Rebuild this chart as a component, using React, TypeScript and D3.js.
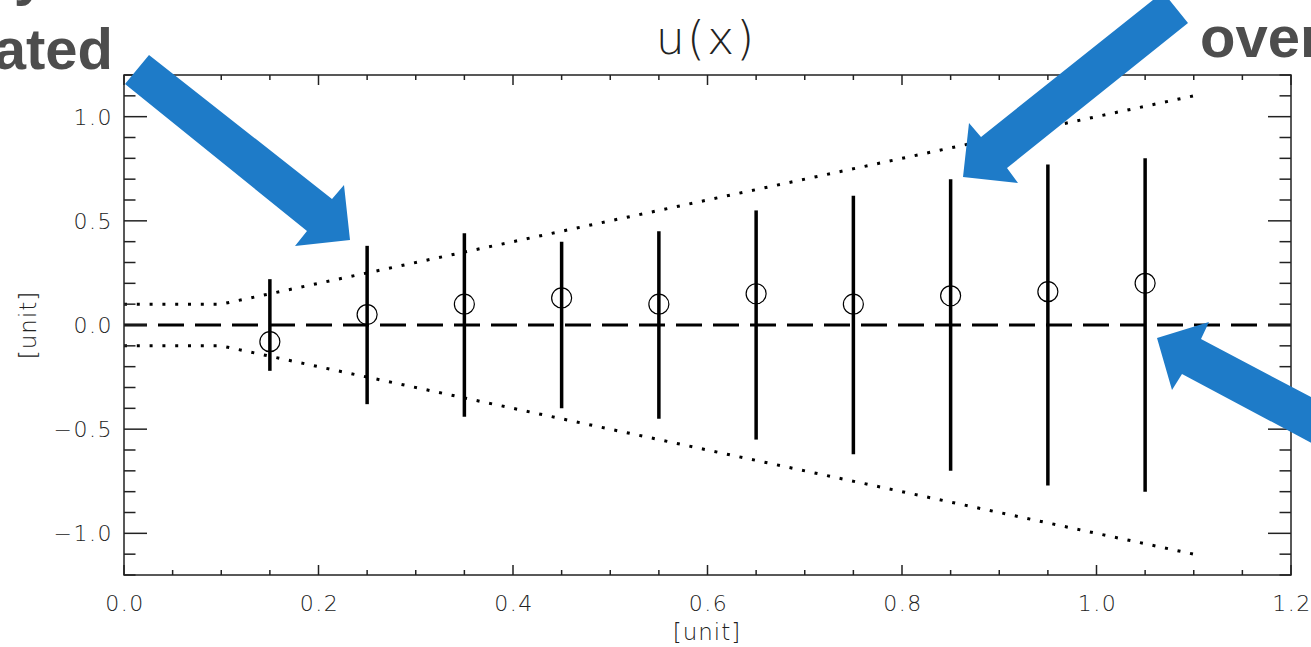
import React from "react";
import * as d3 from "d3";

// Sample positions, measured values and their error half-widths
const xs = [0.15, 0.25, 0.35, 0.45, 0.55, 0.65, 0.75, 0.85, 0.95, 1.05];
const values = [-0.08, 0.05, 0.1, 0.13, 0.1, 0.15, 0.1, 0.14, 0.16, 0.2];
const errors = [0.22, 0.38, 0.44, 0.4, 0.45, 0.55, 0.62, 0.7, 0.77, 0.8];

// Envelope (dotted) break points
const envX = [0, 0.1, 1.1];
const envY = [0.1, 0.1, 1.1];

// Axis ticks
const xMajor = [0, 0.2, 0.4, 0.6, 0.8, 1.0, 1.2];
const yMajor = [-1.0, -0.5, 0.0, 0.5, 1.0];

const W = 1311;
const H = 647;
const M = { left: 124, right: 1291, top: 75, bottom: 575 };

const x = d3.scaleLinear().domain([0, 1.2]).range([M.left, M.right]);
const y = d3.scaleLinear().domain([-1.2, 1.2]).range([M.bottom, M.top]);

const xMinor = d3.range(0, 1.2001, 0.05).filter((v) => Math.abs(v / 0.2 - Math.round(v / 0.2)) > 1e-6);
const yMinor = d3.range(-1.2, 1.2001, 0.1).filter((v) => Math.abs(v / 0.5 - Math.round(v / 0.5)) > 1e-6);

const fmt = (v: number) => (v < 0 ? "\u2212" : "") + Math.abs(v).toFixed(1);

const BLUE = "#1e7bc8";
const AXIS = "#222";
const thinFont = "'DejaVu Sans', sans-serif";

// Call-out arrows (slide annotation polygons)
const arrows: [number, number][][] = [
  [[149, 55], [332, 199], [344, 185], [350, 240], [295, 246], [307, 231], [125, 84]],
  [[1163, -8], [1188, 23], [1007, 168], [1018, 183], [963, 177], [969, 123], [981, 137]],
  [[1157, 338], [1209, 322], [1201, 339], [1400, 444], [1400, 490], [1182, 374], [1172, 390]],
];

export default function App() {
  const envTop = d3.line<number>().x((_, i) => x(envX[i])).y((d) => y(d));
  const envBottom = d3.line<number>().x((_, i) => x(envX[i])).y((d) => y(-d));
  const xTickMaj = 10, xTickMin = 5, yTickMaj = 23, yTickMin = 11.5;

  return (
    <svg
      width={W}
      height={H}
      style={{ position: "absolute", left: 0, top: 0, background: "#fff" }}
    >
      {/* slide text fragments */}
      <g fontFamily="'Liberation Sans', Arial, sans-serif" fontWeight="bold" fontSize={58} fill="#4d4d4d">
        <text x={46} y={-6} textAnchor="end">y</text>
        <text x={113} y={69} textAnchor="end">ated</text>
        <text x={1200} y={57}>over</text>
      </g>

      {/* title */}
      <text
        x={706}
        y={54}
        textAnchor="middle"
        fontFamily={thinFont}
        fontWeight={200}
        fontSize={46}
        letterSpacing={2}
        fill="#222"
      >
        u(x)
      </text>

      {/* zero reference line */}
      <line
        x1={x(0)}
        x2={x(1.2)}
        y1={y(0)}
        y2={y(0)}
        stroke="#000"
        strokeWidth={3}
        strokeDasharray="26 11"
        strokeDashoffset={3}
      />

      {/* envelope */}
      <path d={envTop(envY) ?? ""} fill="none" stroke="#000" strokeWidth={3} strokeDasharray="3 9.8" />
      <path d={envBottom(envY) ?? ""} fill="none" stroke="#000" strokeWidth={3} strokeDasharray="3 9.8" />

      {/* error bars and points */}
      {xs.map((xv, i) => (
        <g key={i}>
          <line
            x1={x(xv)}
            x2={x(xv)}
            y1={y(-errors[i])}
            y2={y(errors[i])}
            stroke="#000"
            strokeWidth={3.5}
          />
          <circle cx={x(xv)} cy={y(values[i])} r={10} fill="none" stroke="#000" strokeWidth={1.2} />
        </g>
      ))}

      {/* frame */}
      <rect
        x={M.left}
        y={M.top}
        width={M.right - M.left}
        height={M.bottom - M.top}
        fill="none"
        stroke={AXIS}
        strokeWidth={1.5}
      />

      {/* x ticks, bottom and top */}
      {xMajor.map((v) => (
        <g key={"xM" + v}>
          <line x1={x(v)} x2={x(v)} y1={M.bottom} y2={M.bottom - xTickMaj} stroke={AXIS} strokeWidth={1.5} />
          <line x1={x(v)} x2={x(v)} y1={M.top} y2={M.top + xTickMaj} stroke={AXIS} strokeWidth={1.5} />
        </g>
      ))}
      {xMinor.map((v) => (
        <g key={"xm" + v}>
          <line x1={x(v)} x2={x(v)} y1={M.bottom} y2={M.bottom - xTickMin} stroke={AXIS} strokeWidth={1.5} />
          <line x1={x(v)} x2={x(v)} y1={M.top} y2={M.top + xTickMin} stroke={AXIS} strokeWidth={1.5} />
        </g>
      ))}

      {/* y ticks, left and right */}
      {yMajor.map((v) => (
        <g key={"yM" + v}>
          <line x1={M.left} x2={M.left + yTickMaj} y1={y(v)} y2={y(v)} stroke={AXIS} strokeWidth={1.5} />
          <line x1={M.right} x2={M.right - yTickMaj} y1={y(v)} y2={y(v)} stroke={AXIS} strokeWidth={1.5} />
        </g>
      ))}
      {yMinor.map((v) => (
        <g key={"ym" + v}>
          <line x1={M.left} x2={M.left + yTickMin} y1={y(v)} y2={y(v)} stroke={AXIS} strokeWidth={1.5} />
          <line x1={M.right} x2={M.right - yTickMin} y1={y(v)} y2={y(v)} stroke={AXIS} strokeWidth={1.5} />
        </g>
      ))}

      {/* tick labels */}
      <g fontFamily={thinFont} fontWeight={200} fontSize={22} fill="#222" letterSpacing={1.5}>
        {xMajor.map((v) => (
          <text key={"xl" + v} x={x(v) + 1} y={611} textAnchor="middle">
            {fmt(v)}
          </text>
        ))}
        {yMajor.map((v) => (
          <text key={"yl" + v} x={113} y={y(v) + 8} textAnchor="end">
            {fmt(v)}
          </text>
        ))}
      </g>

      {/* axis titles */}
      <g fontFamily={thinFont} fontWeight={200} fontSize={23} fill="#222" letterSpacing={1}>
        <text x={707} y={640} textAnchor="middle">[unit]</text>
        <text transform={`translate(36,${y(0)}) rotate(-90)`} textAnchor="middle">[unit]</text>
      </g>

      {/* call-out arrows */}
      {arrows.map((pts, i) => (
        <polygon key={"a" + i} points={pts.map((p) => p.join(",")).join(" ")} fill={BLUE} />
      ))}
    </svg>
  );
}
